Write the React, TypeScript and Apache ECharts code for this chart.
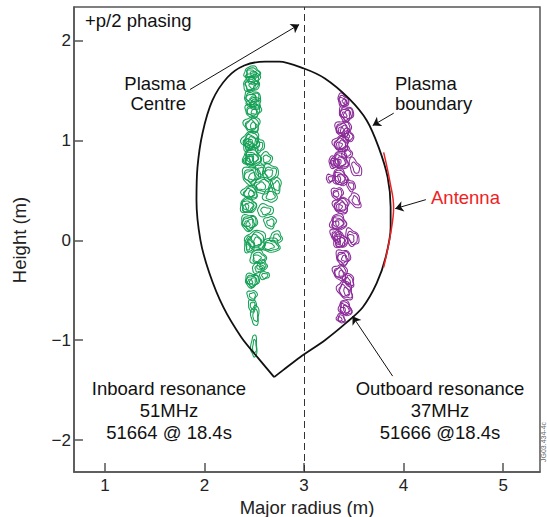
import React, { useEffect, useRef } from "react";
import * as echarts from "echarts";

// Plasma boundary (major radius R, height Z), metres
const boundaryR = [2.70, 2.54, 2.37, 2.19, 2.05, 1.96, 1.92, 1.93, 1.98, 2.08, 2.23, 2.40, 2.61, 2.75, 3.0, 3.21, 3.45, 3.63, 3.75, 3.84, 3.87, 3.87, 3.82, 3.73, 3.59, 3.42, 3.21, 2.96, 2.79, 2.70];
const boundaryZ = [-1.37, -1.18, -0.97, -0.67, -0.33, 0.0, 0.40, 0.73, 1.07, 1.40, 1.63, 1.75, 1.79, 1.79, 1.72, 1.62, 1.42, 1.20, 0.93, 0.63, 0.33, 0.13, -0.17, -0.43, -0.67, -0.83, -1.0, -1.17, -1.30, -1.37];

// Antenna
const antennaR = [3.80, 3.86, 3.90, 3.87, 3.80];
const antennaZ = [0.88, 0.60, 0.33, 0.07, -0.27];

// Inboard (green) contour blobs: centre R, centre Z, half-width, half-height, rings
const greenR = [2.478, 2.468, 2.478, 2.488, 2.478, 2.468, 2.478, 2.619, 2.659, 2.468, 2.579, 2.458, 2.659, 2.438, 2.609, 2.448, 2.659, 2.518, 2.659, 2.538, 2.538, 2.478, 2.478, 2.508, 2.498, 2.579, 2.44, 2.55, 2.56, 2.72, 2.45, 2.72, 2.45, 2.60, 2.48, 2.49, 2.50];
const greenZ = [1.68, 1.56, 1.43, 1.30, 1.16, 1.00, 0.83, 0.82, 0.68, 0.65, 0.55, 0.48, 0.45, 0.35, 0.30, 0.18, 0.18, 0.00, -0.05, -0.17, -0.28, -0.40, -0.55, -0.75, -1.06, -0.25, 0.95, 0.95, 0.70, 0.55, 0.80, 0.03, -0.05, -0.35, -0.65, 1.62, 1.37];
const greenW = [0.08, 0.08, 0.08, 0.08, 0.08, 0.09, 0.09, 0.06, 0.08, 0.09, 0.10, 0.08, 0.07, 0.08, 0.08, 0.08, 0.06, 0.10, 0.10, 0.08, 0.06, 0.07, 0.05, 0.04, 0.03, 0.05, 0.05, 0.05, 0.05, 0.05, 0.05, 0.06, 0.05, 0.05, 0.04, 0.07, 0.07];
const greenH = [0.06, 0.07, 0.07, 0.07, 0.08, 0.09, 0.09, 0.06, 0.08, 0.09, 0.08, 0.07, 0.07, 0.08, 0.06, 0.08, 0.06, 0.10, 0.07, 0.07, 0.05, 0.07, 0.05, 0.10, 0.11, 0.05, 0.06, 0.07, 0.06, 0.08, 0.06, 0.06, 0.08, 0.04, 0.06, 0.06, 0.06];
const greenRings = [4, 4, 4, 4, 4, 5, 5, 2, 3, 4, 3, 4, 2, 5, 2, 5, 2, 4, 3, 3, 2, 5, 2, 2, 2, 2, 3, 2, 2, 2, 3, 2, 3, 2, 2, 3, 3];

// Outboard (purple) contour blobs
const purpleR = [3.393, 3.423, 3.393, 3.373, 3.363, 3.363, 3.514, 3.262, 3.333, 3.373, 3.514, 3.343, 3.363, 3.483, 3.393, 3.363, 3.413, 3.413, 3.44, 3.30, 3.47, 3.32, 3.45, 3.37, 3.43];
const purpleZ = [1.40, 1.27, 1.12, 0.97, 0.80, 0.63, 0.73, 0.62, 0.47, 0.35, 0.40, 0.18, 0.00, 0.03, -0.17, -0.32, -0.50, -0.68, 1.05, 0.78, 0.55, 0.05, -0.40, -0.78, 0.88];
const purpleW = [0.05, 0.07, 0.08, 0.08, 0.08, 0.07, 0.05, 0.04, 0.06, 0.08, 0.05, 0.08, 0.07, 0.06, 0.07, 0.07, 0.07, 0.06, 0.05, 0.05, 0.04, 0.05, 0.05, 0.04, 0.05];
const purpleH = [0.07, 0.08, 0.08, 0.08, 0.09, 0.09, 0.10, 0.04, 0.06, 0.08, 0.08, 0.08, 0.08, 0.09, 0.08, 0.08, 0.10, 0.08, 0.07, 0.06, 0.06, 0.07, 0.07, 0.05, 0.06];
const purpleRings = [4, 5, 5, 5, 5, 5, 2, 2, 3, 5, 2, 5, 5, 3, 4, 4, 4, 5, 3, 3, 2, 3, 3, 3, 2];

const xTicks = [1, 2, 3, 4, 5];
const yTicks = [-2, -1, 0, 1, 2];

const FONT = '"Liberation Sans", Arial, Helvetica, sans-serif';
const AXIS = "#555";
const GREEN = "#14a055";
const PURPLE = "#8a2b98";
const RED = "#ee2222";

function blobRender(color: string, tilt: number) {
  return (params: any, api: any) => {
    const c = api.coord([api.value(0), api.value(1)]);
    const s = api.size([api.value(2), api.value(3)]);
    const rings = api.value(4);
    const idx = params.dataIndex;
    const children: any[] = [];
    const ct = Math.cos(tilt);
    const st = Math.sin(tilt);
    for (let k = 0; k < rings; k++) {
      const f = 1 - (k * 0.8) / rings;
      const ox = ((k % 2) ? 1 : -1) * k * 0.5;
      const oy = k * 0.4;
      const pts: number[][] = [];
      const N = 30;
      for (let i = 0; i < N; i++) {
        const t = (i / N) * Math.PI * 2;
        const w = 1 + 0.12 * Math.sin(3 * t + idx + k) + 0.07 * Math.cos(5 * t + idx * 2);
        const ex = Math.cos(t) * s[0] * f * w;
        const ey = Math.sin(t) * s[1] * f * w;
        pts.push([c[0] + ox + ex * ct - ey * st, c[1] + oy + ex * st + ey * ct]);
      }
      children.push({
        type: "polygon",
        shape: { points: pts },
        style: { fill: "none", stroke: color, lineWidth: 1.05 },
      });
    }
    return { type: "group", children };
  };
}

export default function App() {
  const ref = useRef<HTMLDivElement>(null);
  useEffect(() => {
    if (!ref.current) return;
    const chart = echarts.init(ref.current, null, { renderer: "svg" });
    const greenData = greenR.map((r, i) => [r, greenZ[i], greenW[i], greenH[i], greenRings[i]]);
    const purpleData = purpleR.map((r, i) => [r, purpleZ[i], purpleW[i], purpleH[i], purpleRings[i]]);
    const arrowLine = (from: number[], to: number[]) => [{ coord: from }, { coord: to }];
    const txt = (x: number, y: number, text: string, align: string, fill = "#111") => ({
      type: "text",
      x,
      y,
      style: { text, fill, font: `18.5px ${FONT}`, textAlign: align, textVerticalAlign: "middle" },
    });
    chart.setOption({
      animation: false,
      grid: { left: 74, right: 7, top: 7, bottom: 45, show: true, borderColor: AXIS, borderWidth: 1.5, backgroundColor: "transparent" },
      xAxis: {
        type: "value",
        min: 0.69,
        max: 5.37,
        splitLine: { show: false },
        axisLine: { show: true, onZero: false, lineStyle: { color: AXIS, width: 1.5 } },
        axisTick: { show: true, inside: true, length: 9, customValues: xTicks, lineStyle: { color: AXIS, width: 1.5 } },
        axisLabel: { customValues: xTicks, color: "#222", fontSize: 17, fontFamily: FONT, margin: 5 },
      },
      yAxis: {
        type: "value",
        min: -2.32,
        max: 2.336,
        splitLine: { show: false },
        axisLine: { show: true, onZero: false, lineStyle: { color: AXIS, width: 1.5 } },
        axisTick: { show: true, inside: true, length: 9, customValues: yTicks, lineStyle: { color: AXIS, width: 1.5 } },
        axisLabel: {
          customValues: yTicks,
          color: "#222",
          fontSize: 17,
          fontFamily: FONT,
          margin: 3,
          formatter: (v: number) => (v < 0 ? "\u2212" + Math.abs(v) : String(v)),
        },
      },
      series: [
        {
          type: "custom",
          name: "Inboard",
          renderItem: blobRender(GREEN, 0),
          data: greenData,
          encode: { x: 0, y: 1 },
          silent: true,
        },
        {
          type: "custom",
          name: "Outboard",
          renderItem: blobRender(PURPLE, -0.45),
          data: purpleData,
          encode: { x: 0, y: 1 },
          silent: true,
        },
        {
          type: "line",
          name: "Boundary",
          data: boundaryR.map((r, i) => [r, boundaryZ[i]]),
          smooth: 0.3,
          showSymbol: false,
          lineStyle: { color: "#111", width: 1.8 },
          silent: true,
          markLine: {
            silent: true,
            symbol: ["none", "none"],
            label: { show: false },
            lineStyle: { color: "#333", width: 1, type: [7, 4] },
            data: [{ xAxis: 3 }],
          },
        },
        {
          type: "line",
          name: "Antenna",
          data: antennaR.map((r, i) => [r, antennaZ[i]]),
          smooth: 0.4,
          showSymbol: false,
          lineStyle: { color: RED, width: 1.5 },
          silent: true,
          markLine: {
            silent: true,
            symbol: ["none", "arrow"],
            symbolSize: 8,
            label: { show: false },
            lineStyle: { color: "#111", width: 1, type: "solid" },
            data: [
              arrowLine([1.855, 1.51], [2.951, 2.16]),
              arrowLine([3.901, 1.273], [3.69, 1.15]),
              arrowLine([4.224, 0.407], [3.916, 0.317]),
              arrowLine([3.89, -1.36], [3.487, -0.76]),
            ],
          },
        },
      ],
      graphic: [
        txt(85, 20, "+p/2 phasing", "left"),
        txt(186, 83, "Plasma", "right"),
        txt(186, 103, "Centre", "right"),
        txt(395, 83, "Plasma", "left"),
        txt(395, 103, "boundary", "left"),
        txt(431, 197, "Antenna", "left", RED),
        txt(169, 388, "Inboard resonance", "center"),
        txt(169, 410, "51MHz", "center"),
        txt(169, 432, "51664 @ 18.4s", "center"),
        txt(440, 388, "Outboard resonance", "center"),
        txt(440, 410, "37MHz", "center"),
        txt(440, 432, "51666 @18.4s", "center"),
        {
          type: "text",
          x: 19,
          y: 240,
          rotation: Math.PI / 2,
          style: { text: "Height (m)", fill: "#222", font: `18.5px ${FONT}`, textAlign: "center", textVerticalAlign: "middle" },
        },
        {
          type: "text",
          x: 307,
          y: 507,
          style: { text: "Major radius (m)", fill: "#222", font: `18.5px ${FONT}`, textAlign: "center", textVerticalAlign: "middle" },
        },
        {
          type: "text",
          x: 543,
          y: 442,
          rotation: Math.PI / 2,
          style: { text: "JG03.434-4c", fill: "#666", font: `7px ${FONT}`, textAlign: "center", textVerticalAlign: "middle" },
        },
      ],
    });
    return () => chart.dispose();
  }, []);
  return <div ref={ref} style={{ width: 547, height: 517, position: "absolute", left: 0, top: 0 }} />;
}
